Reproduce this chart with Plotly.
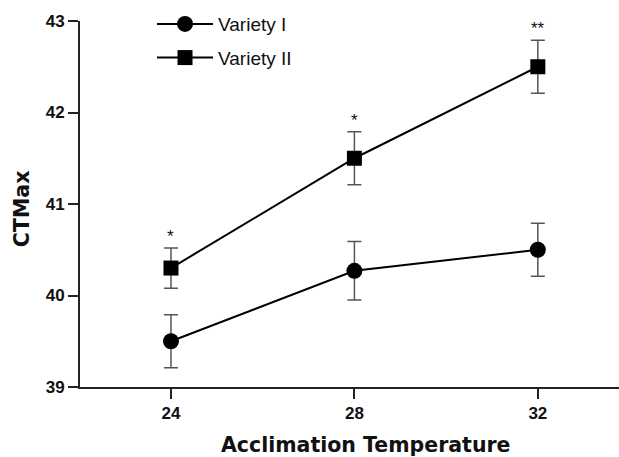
import plotly.graph_objects as go

temps = [24, 28, 32]
tick_vals_y = [39, 40, 41, 42, 43]

var1_mean = [39.50, 40.27, 40.50]
var1_err = [0.29, 0.32, 0.29]

var2_mean = [40.30, 41.50, 42.50]
var2_err = [0.22, 0.29, 0.29]
var2_sig = ["*", "*", "**"]

series_names = ["Variety I", "Variety II"]

fig = go.Figure()

fig.add_trace(go.Scatter(
    x=temps, y=var1_mean, name=series_names[0], mode="lines+markers",
    line=dict(color="black", width=2),
    marker=dict(symbol="circle", size=16, color="black"),
    error_y=dict(type="data", array=var1_err, color="#555555", thickness=1.5, width=7),
    legendgroup="a",
))
fig.add_trace(go.Scatter(
    x=temps, y=var2_mean, name=series_names[1], mode="lines+markers",
    line=dict(color="black", width=2),
    marker=dict(symbol="square", size=15, color="black"),
    error_y=dict(type="data", array=var2_err, color="#555555", thickness=1.5, width=7),
    legendgroup="b",
))

for xv, m, e, s in zip(temps, var2_mean, var2_err, var2_sig):
    fig.add_annotation(x=xv, y=m + e, text=s, showarrow=False, xref="x", yref="y",
                       yanchor="bottom", xanchor="center",
                       font=dict(family="Liberation Sans, Arial", size=17, color="#111"))

fig.add_annotation(text="Acclimation Temperature", xref="paper", yref="paper",
                   x=0.5315, y=-0.158, showarrow=False, xanchor="center", yanchor="middle",
                   font=dict(family="DejaVu Sans", size=20.5, color="#111", weight="bold"))
fig.add_annotation(text="CTMax", xref="paper", yref="paper", textangle=-90,
                   x=-0.1076, y=0.486, showarrow=False, xanchor="center", yanchor="middle",
                   font=dict(family="DejaVu Sans", size=20.5, color="#111", weight="bold"))

fig.update_layout(
    width=619, height=457,
    margin=dict(l=80, r=0, t=21, b=70, autoexpand=False),
    plot_bgcolor="white", paper_bgcolor="white",
    showlegend=True,
    legend=dict(xref="container", yref="container", x=0.2456, y=0.989,
                xanchor="left", yanchor="top",
                font=dict(family="Liberation Sans, Arial", size=19, color="#111"),
                tracegroupgap=6, traceorder="grouped", itemwidth=56,
                bgcolor="rgba(0,0,0,0)"),
)
fig.update_xaxes(range=[22.016, 33.77], tickvals=temps, ticks="outside", ticklen=10, tickwidth=2,
                 tickcolor="#222", showline=True, linecolor="#222", linewidth=2,
                 showgrid=False, zeroline=False,
                 tickfont=dict(family="Liberation Sans, Arial", size=17, color="#111", weight="bold"))
fig.update_yaxes(range=[39, 43], tickvals=tick_vals_y, ticks="outside", ticklen=10, tickwidth=2,
                 tickcolor="#222", showline=True, linecolor="#222", linewidth=2,
                 showgrid=False, zeroline=False,
                 tickfont=dict(family="Liberation Sans, Arial", size=17, color="#111", weight="bold"))

fig.write_html("out.html", config={"displayModeBar": False},
               post_script="document.body.style.margin='0';")
